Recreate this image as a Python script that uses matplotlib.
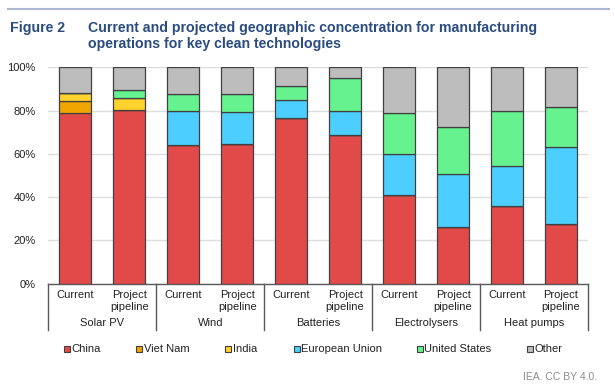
import matplotlib
matplotlib.use("Agg")
import matplotlib.pyplot as plt
import numpy as np
from matplotlib.patches import Rectangle
from matplotlib.lines import Line2D

plt.rcParams['font.family'] = ['Liberation Sans', 'DejaVu Sans']

# Data (shares in %)
technologies = ["Solar PV", "Wind", "Batteries", "Electrolysers", "Heat pumps"]
stages = ["Current", "Project\npipeline"]

china = [79.0, 80.1, 64.2, 64.4, 76.7, 68.6, 40.8, 26.3, 35.9, 27.4]
viet_nam = [5.6, 0.0, 0.0, 0.0, 0.0, 0.0, 0.0, 0.0, 0.0, 0.0]
india = [3.4, 5.9, 0.0, 0.0, 0.0, 0.0, 0.0, 0.0, 0.0, 0.0]
european_union = [0.0, 0.0, 15.5, 14.8, 8.2, 11.2, 19.3, 24.5, 18.5, 35.9]
united_states = [0.0, 3.5, 8.0, 8.5, 6.6, 15.4, 18.9, 21.5, 25.4, 18.4]
other = [12.0, 10.5, 12.3, 12.3, 8.5, 4.8, 21.0, 27.7, 20.2, 18.3]

series_names = ["China", "Viet Nam", "India", "European Union", "United States", "Other"]
series_values = [china, viet_nam, india, european_union, united_states, other]
colors = ["#E24A4A", "#F0A500", "#FFD22E", "#4CCFFF", "#66F28F", "#BDBDBD"]

TITLE_BLUE = "#2A4C80"
EDGE = "#404040"

fig = plt.figure(figsize=(6.15, 3.91), dpi=100)
W, H = 615, 391

# axes placement in pixels
ax_l, ax_r, ax_t, ax_b = 48.3, 588, 67.3, 283.7
ax = fig.add_axes([ax_l / W, 1 - ax_b / H, (ax_r - ax_l) / W, (ax_b - ax_t) / H])

n = len(china)
x = np.arange(n)
bottom = np.zeros(n)
for name, vals, c in zip(series_names, series_values, colors):
    vals = np.array(vals) / 100
    ax.bar(x, vals, bottom=bottom, width=0.59, color=c, edgecolor=EDGE,
           linewidth=0.9, zorder=3)
    bottom += vals

ax.set_xlim(-0.5, n - 0.5)
ax.set_ylim(0, 1)
ax.set_yticks(np.arange(0, 1.01, 0.2))
ax.set_yticklabels([f"{int(round(v * 100))}%" for v in np.arange(0, 1.01, 0.2)])
ax.yaxis.grid(True, color="#DDDDDD", linewidth=1, zorder=0)
ax.tick_params(axis="y", length=0, pad=9, labelsize=8, labelcolor="#222222")
ax.set_xticks([])
for s in ["left", "right", "top"]:
    ax.spines[s].set_visible(False)
ax.spines["bottom"].set_color("#595959")
ax.spines["bottom"].set_linewidth(1)


def fy(px):
    # pixel y (from top) -> axes fraction
    return (ax_b - px) / (ax_b - ax_t)


trans = ax.get_xaxis_transform()
for i in range(n):
    stage = stages[i % 2]
    if "\n" in stage:
        a, b = stage.split("\n")
        ax.text(i, fy(294.5), a, transform=trans, ha="center", va="center",
                fontsize=8, color="#222222", clip_on=False)
        ax.text(i, fy(306.5), b, transform=trans, ha="center", va="center",
                fontsize=8, color="#222222", clip_on=False)
    else:
        ax.text(i, fy(294.5), stage, transform=trans, ha="center", va="center",
                fontsize=8, color="#222222", clip_on=False)

for g, tech in enumerate(technologies):
    ax.text(2 * g + 0.5, fy(323.5), tech, transform=trans, ha="center",
            va="center", fontsize=8, color="#222222", clip_on=False)

for k in range(len(technologies) + 1):
    ax.add_line(Line2D([2 * k - 0.5, 2 * k - 0.5], [0, fy(330)], transform=trans,
                       color="#595959", linewidth=1, clip_on=False))

# legend
leg_x = [66.7, 139.3, 228.3, 296.7, 420, 530]
leg_y = 348.5
sq = 6
for lx, name, c in zip(leg_x, series_names, colors):
    fig.patches.append(Rectangle(((lx - sq / 2) / W, 1 - (leg_y + sq / 2) / H),
                                 sq / W, sq / H, transform=fig.transFigure,
                                 facecolor=c, edgecolor=EDGE, linewidth=0.8))
    fig.text((lx + 4.5) / W, 1 - leg_y / H, name, ha="left", va="center",
             fontsize=8, color="#222222")

# header
fig.add_artist(Line2D([8 / W, 609 / W], [1 - 8.5 / H, 1 - 8.5 / H],
                      transform=fig.transFigure, color="#A9B8CC", linewidth=1.5))
fig.text(10 / W, 1 - 28 / H, "Figure 2", ha="left", va="center", fontsize=10.2,
         fontweight="bold", color=TITLE_BLUE)
fig.text(88 / W, 1 - 28 / H,
         "Current and projected geographic concentration for manufacturing",
         ha="left", va="center", fontsize=10.2, fontweight="bold", color=TITLE_BLUE)
fig.text(88 / W, 1 - 44 / H, "operations for key clean technologies",
         ha="left", va="center", fontsize=10.2, fontweight="bold", color=TITLE_BLUE)

fig.text(597 / W, 1 - 377.5 / H, "IEA. CC BY 4.0.", ha="right", va="center",
         fontsize=7.5, color="#8C8C8C")

fig.savefig("out.png", dpi=100)
